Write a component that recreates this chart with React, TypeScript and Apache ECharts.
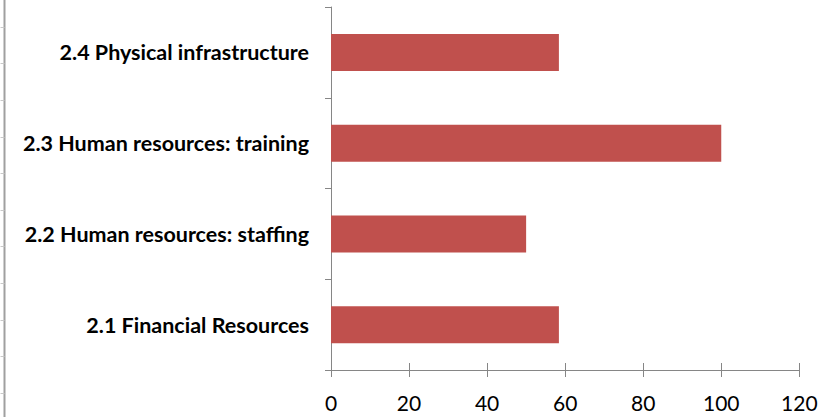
import React, { useEffect, useRef } from "react";
import * as echarts from "echarts";

const categories = [
  "2.1 Financial Resources",
  "2.2 Human resources: staffing",
  "2.3 Human resources: training",
  "2.4 Physical infrastructure",
];
const values = [58.4, 50, 100, 58.4];
const xTicks = [0, 20, 40, 60, 80, 100, 120];

const AXIS = "#868686";

export default function App() {
  const ref = useRef<HTMLDivElement>(null);
  useEffect(() => {
    if (!ref.current) return;
    const chart = echarts.init(ref.current, null, { renderer: "svg" });
    chart.setOption({
      animation: false,
      backgroundColor: "#ffffff",
      grid: [
        { left: 331, right: 35.7, top: 7, bottom: 47 },
        { left: 4.5, width: 10, top: 27, bottom: 24 },
      ],
      xAxis: [
        {
          type: "value",
          gridIndex: 0,
          min: xTicks[0],
          max: xTicks[xTicks.length - 1],
          interval: 20,
          axisLine: { show: true, lineStyle: { color: AXIS, width: 1 } },
          axisTick: { show: true, length: 7, lineStyle: { color: AXIS } },
          axisLabel: {
            margin: 22,
            color: "#000",
            fontFamily: "Lato",
            fontSize: 21,
          },
          splitLine: { show: false },
        },
        {
          type: "value",
          gridIndex: 0,
          position: "bottom",
          min: xTicks[0],
          max: xTicks[xTicks.length - 1],
          interval: 20,
          axisLine: { show: false },
          axisTick: { show: true, inside: true, length: 7, lineStyle: { color: AXIS } },
          axisLabel: { show: false },
          splitLine: { show: false },
        },
        {
          type: "value",
          gridIndex: 1,
          show: false,
        },
      ],
      yAxis: [
        {
          type: "category",
          gridIndex: 0,
          data: categories,
          axisLine: { show: true, lineStyle: { color: AXIS, width: 1 } },
          axisTick: { show: true, length: 6, lineStyle: { color: AXIS } },
          axisLabel: {
            margin: 22,
            color: "#000",
            fontFamily: "Lato",
            fontWeight: "bold",
            fontSize: 21.5,
            padding: [4, 0, 0, 0],
          },
        },
        {
          type: "value",
          gridIndex: 1,
          min: 0,
          max: 10,
          interval: 1,
          axisLine: { show: false },
          axisTick: { show: true, length: 4, lineStyle: { color: "#c8c8c8" } },
          axisLabel: { show: false },
          splitLine: { show: false },
        },
      ],
      graphic: [
        {
          type: "line",
          shape: { x1: 4.5, y1: 0, x2: 4.5, y2: 417 },
          style: { stroke: "#a0a0a0", lineWidth: 2 },
          silent: true,
        },
        {
          type: "line",
          shape: { x1: 325, y1: 370.5, x2: 331, y2: 370.5 },
          style: { stroke: AXIS, lineWidth: 1 },
          silent: true,
        },
      ],
      series: [
        {
          type: "bar",
          xAxisIndex: 0,
          yAxisIndex: 0,
          data: values,
          barWidth: 37,
          itemStyle: { color: "#C0504D" },
        },
      ],
    });
    return () => chart.dispose();
  }, []);
  return (
    <div
      ref={ref}
      style={{ position: "fixed", left: 0, top: 0, width: 835, height: 417 }}
    />
  );
}
